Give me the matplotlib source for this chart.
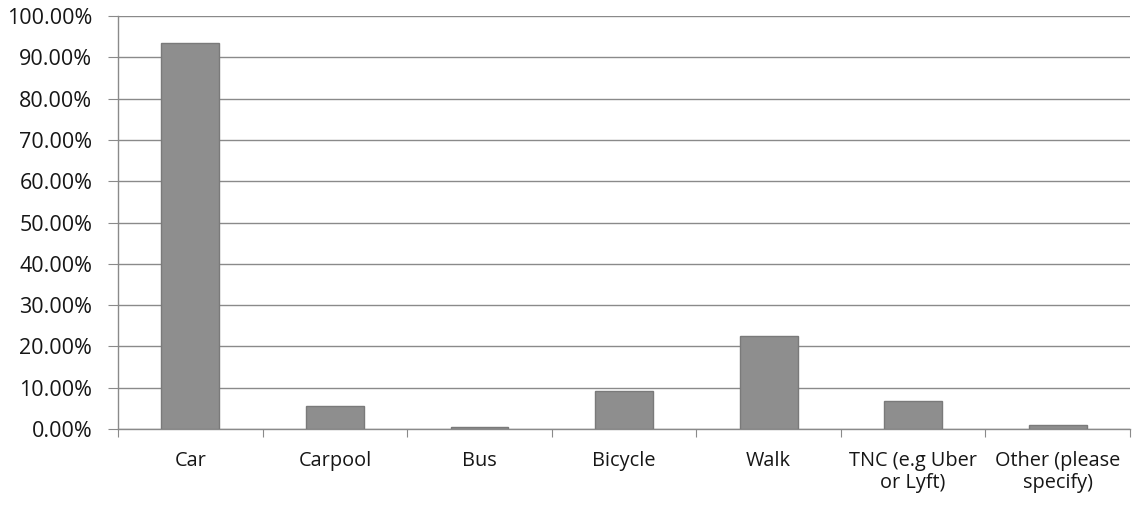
import matplotlib
matplotlib.use("Agg")
import matplotlib.pyplot as plt
import numpy as np
from matplotlib.ticker import FuncFormatter, MultipleLocator

categories = ["Car", "Carpool", "Bus", "Bicycle", "Walk", "TNC (e.g Uber\nor Lyft)", "Other (please\nspecify)"]
values = [93.6, 5.6, 0.4, 9.2, 22.6, 6.8, 0.9]

plt.rcParams['font.family'] = ['Open Sans', 'DejaVu Sans']

fig = plt.figure(figsize=(11.35, 5.05), dpi=100)
ax = fig.add_axes([0.104, 0.1505, 0.8916, 0.8175])

x = np.arange(len(categories))
ax.bar(x, values, width=0.4, color="#8e8e8e", edgecolor="#7a7a7a", linewidth=1, zorder=3)

ax.set_xlim(-0.5, len(categories) - 0.5)
ax.set_ylim(0, 100)
ax.yaxis.set_major_locator(MultipleLocator(10))
ax.yaxis.set_major_formatter(FuncFormatter(lambda v, p: f"{v:.2f}%"))
ax.grid(axis="y", color="#8a8a8a", linewidth=1.0, zorder=0)

ax.set_xticks(np.arange(-0.5, len(categories), 1.0))
ax.set_xticklabels([])
ax.set_xticks(x, minor=True)
ax.set_xticklabels(categories, minor=True, fontsize=14.3, color="#161616", linespacing=1.15)
ax.tick_params(axis="x", which="major", length=6, color="#8a8a8a", direction="out")
ax.tick_params(axis="x", which="minor", length=0, pad=15.5)
ax.tick_params(axis="y", length=7.5, color="#8a8a8a", labelsize=15.5, labelcolor="#161616", pad=11)
for lbl in ax.get_yticklabels() + ax.get_xticklabels(minor=True):
    lbl.set_fontweight(500)

for s in ["top", "right"]:
    ax.spines[s].set_visible(False)
for s in ["left", "bottom"]:
    ax.spines[s].set_color("#8a8a8a")
    ax.spines[s].set_linewidth(1.0)

fig.savefig("out.png", dpi=100)
